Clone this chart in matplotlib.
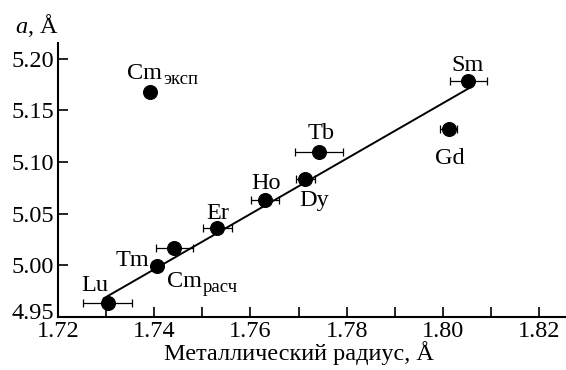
import numpy as np
import matplotlib
matplotlib.use("Agg")
import matplotlib.pyplot as plt
import matplotlib.transforms as mtransforms

plt.rcParams["font.family"] = ["Liberation Serif", "DejaVu Serif"]
plt.rcParams["mathtext.fontset"] = "custom"
plt.rcParams["mathtext.rm"] = "Liberation Serif"
plt.rcParams["mathtext.it"] = "Liberation Serif:italic"

# Data
names = ["Lu", "Tm", "Er", "Ho", "Dy", "Tb", "Gd", "Sm"]
radius = [1.7303, 1.7442, 1.7531, 1.7630, 1.7714, 1.7743, 1.8012, 1.8053]
radius_err = [0.0050, 0.0038, 0.0030, 0.0029, 0.0020, 0.0050, 0.0017, 0.0039]
lattice_a = [4.964, 5.017, 5.036, 5.0635, 5.083, 5.110, 5.132, 5.178]

cm_subs = ["эксп", "расч"]
cm_radius = [1.7392, 1.7405]
cm_a = [5.168, 4.999]

fit_x = [1.7295, 1.8057]
fit_y = [4.968, 5.172]

# label offsets in pixels (dx, dy)
lab_off = {"Lu": (-13, 12), "Tm": (-42, -18), "Er": (0, 9), "Ho": (1, 11),
           "Dy": (9, -27), "Tb": (2, 13), "Gd": (1, -35), "Sm": (-1, 10)}
cm_off = [(-23, 13), (10, -21)]

fig = plt.figure(figsize=(5.66, 3.70), dpi=100)
ax = fig.add_axes([58 / 566, 1 - 317 / 370, 1 - 58 / 566, (317 - 43) / 370])

ax.plot(fit_x, fit_y, color="black", lw=1.4, zorder=2)
ax.errorbar(radius, lattice_a, xerr=radius_err, fmt="o", color="black",
            ms=9.8, elinewidth=0.9, capsize=3, capthick=0.9, zorder=3)
ax.plot(cm_radius, cm_a, "o", color="black", ms=9.8, zorder=3)

for n, x, y in zip(names, radius, lattice_a):
    ax.annotate(n, (x, y), xytext=lab_off[n], textcoords="offset pixels",
                ha="center", va="baseline", fontsize=17.5)
for sub, x, y, off in zip(cm_subs, cm_radius, cm_a, cm_off):
    t = ax.annotate("Cm", (x, y), xytext=off, textcoords="offset pixels",
                    ha="left", va="baseline", fontsize=17.5)
    ax.annotate(sub, xy=(1, 0), xycoords=t, xytext=(1, 0),
                textcoords="offset pixels", ha="left", va="baseline",
                fontsize=13.5)

ax.set_xlim(1.72, 1.8256)
ax.set_ylim(4.95, 5.215)
ax.set_xticks(np.arange(1.72, 1.821, 0.02))
ax.set_xticks(np.arange(1.73, 1.821, 0.02), minor=True)
ax.set_yticks([4.95, 5.00, 5.05, 5.10, 5.15, 5.20])
ax.xaxis.set_major_formatter(plt.FormatStrFormatter("%.2f"))
ax.yaxis.set_major_formatter(plt.FormatStrFormatter("%.2f"))
ax.tick_params(axis="both", which="both", direction="in", length=7,
               width=1.2, labelsize=17.5, pad=3)
ax.tick_params(axis="x", which="both", pad=3)
for s in ["top", "right"]:
    ax.spines[s].set_visible(False)
for s in ["left", "bottom"]:
    ax.spines[s].set_linewidth(1.5)

# lift the lowest y label a little, as in the original
fig.canvas.draw()
lbl = ax.get_yticklabels()[0]
lbl.set_transform(lbl.get_transform() +
                  mtransforms.ScaledTranslation(0, 6 / 100, fig.dpi_scale_trans))

ax.set_xlabel("Металлический радиус, Å", fontsize=17.5)
ax.xaxis.set_label_coords(0.474, -0.088)
fig.text(15 / 566, 1 - 33 / 370, r"$\mathit{a}$, Å", fontsize=17.5,
         ha="left", va="baseline")

fig.savefig("out.png", dpi=100)
